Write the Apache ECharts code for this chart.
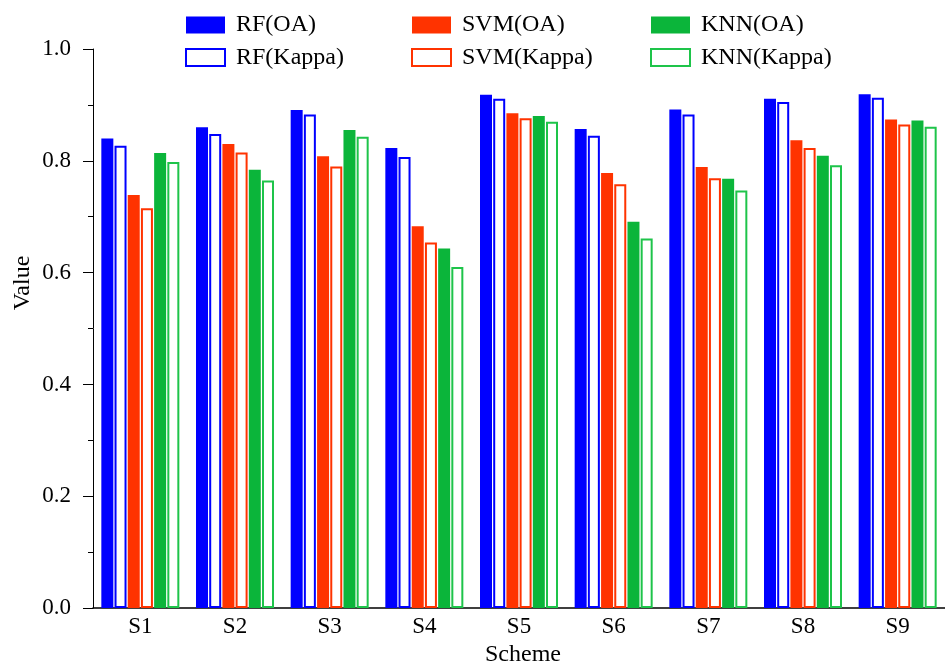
<!DOCTYPE html>
<html>
<head>
<meta charset="utf-8">
<script src="https://cdn.jsdelivr.net/npm/echarts@6/dist/echarts.min.js"></script>
<style>html,body{margin:0;padding:0;background:#fff}#c{width:945px;height:672px}</style>
</head>
<body>
<div id="c"></div>
<script>
const categories = ['S1','S2','S3','S4','S5','S6','S7','S8','S9'];
const rfOA     = [0.840,0.860,0.891,0.823,0.918,0.857,0.892,0.911,0.919];
const rfKappa  = [0.827,0.848,0.883,0.807,0.911,0.845,0.883,0.905,0.913];
const svmOA    = [0.739,0.830,0.808,0.683,0.885,0.778,0.789,0.837,0.874];
const svmKappa = [0.715,0.815,0.790,0.654,0.876,0.758,0.769,0.823,0.865];
const knnOA    = [0.814,0.784,0.855,0.643,0.880,0.691,0.768,0.809,0.872];
const knnKappa = [0.798,0.765,0.843,0.610,0.870,0.661,0.747,0.792,0.861];
const yTicks = [0.0,0.2,0.4,0.6,0.8,1.0];

const BLUE='#0000ff', RED='#ff3300', GREEN='#0bb53a', GREEN2='#1ec44a';
const FONT='Liberation Serif';
function filled(name,data,color){
  return {name,type:'bar',data,barWidth:12,barGap:'10%',itemStyle:{color:color}};
}
function outlined(name,data,color){
  return {name,type:'bar',data,barWidth:12,barGap:'10%',itemStyle:{color:'#ffffff',borderColor:color,borderWidth:2}};
}
const legendBase = {orient:'vertical',top:13,padding:0,itemWidth:39,itemHeight:17,itemGap:8.5,
  textStyle:{fontFamily:FONT,fontSize:24,color:'#000',lineHeight:24,padding:[0,0,0,6]},icon:'rect',selectedMode:false};
const chart = echarts.init(document.getElementById('c'));
chart.setOption({
  animation:false,
  backgroundColor:'#fff',
  legend:[
    Object.assign({left:185,data:['RF(OA)','RF(Kappa)']},legendBase),
    Object.assign({left:411,data:['SVM(OA)','SVM(Kappa)']},legendBase),
    Object.assign({left:650,data:['KNN(OA)','KNN(Kappa)']},legendBase)
  ],
  graphic:[{type:'text',x:23,y:283,rotation:Math.PI/2,
    style:{text:'Value',fontFamily:FONT,fontSize:24,fill:'#000',align:'center',verticalAlign:'middle'}}],
  grid:{left:93,right:-8,top:49,bottom:57,containLabel:false},
  xAxis:{type:'category',data:categories,boundaryGap:true,
    name:'Scheme',nameLocation:'middle',nameGap:29,
    nameTextStyle:{fontFamily:FONT,fontSize:24,color:'#000',padding:[0,0,0,8]},
    axisLine:{lineStyle:{color:'#000',width:1.5}},
    axisTick:{show:false},
    axisLabel:{fontFamily:FONT,fontSize:23,color:'#000',margin:7}},
  yAxis:{type:'value',min:0,max:1,interval:0.2,
    axisLine:{show:true,lineStyle:{color:'#000',width:1}},
    axisTick:{show:true,inside:false,length:10,lineStyle:{color:'#000'}},
    minorTick:{show:true,splitNumber:2,length:5,lineStyle:{color:'#000'}},
    splitLine:{show:false},
    axisLabel:{fontFamily:FONT,fontSize:23,color:'#000',margin:22,
      formatter:v=>{const t=yTicks.find(x=>Math.abs(x-v)<1e-9);return (t!==undefined?t:v).toFixed(1);}}},
  series:[
    filled('RF(OA)',rfOA,BLUE),
    outlined('RF(Kappa)',rfKappa,BLUE),
    filled('SVM(OA)',svmOA,RED),
    outlined('SVM(Kappa)',svmKappa,RED),
    filled('KNN(OA)',knnOA,GREEN),
    outlined('KNN(Kappa)',knnKappa,GREEN2)
  ]
});
</script>
</body>
</html>
